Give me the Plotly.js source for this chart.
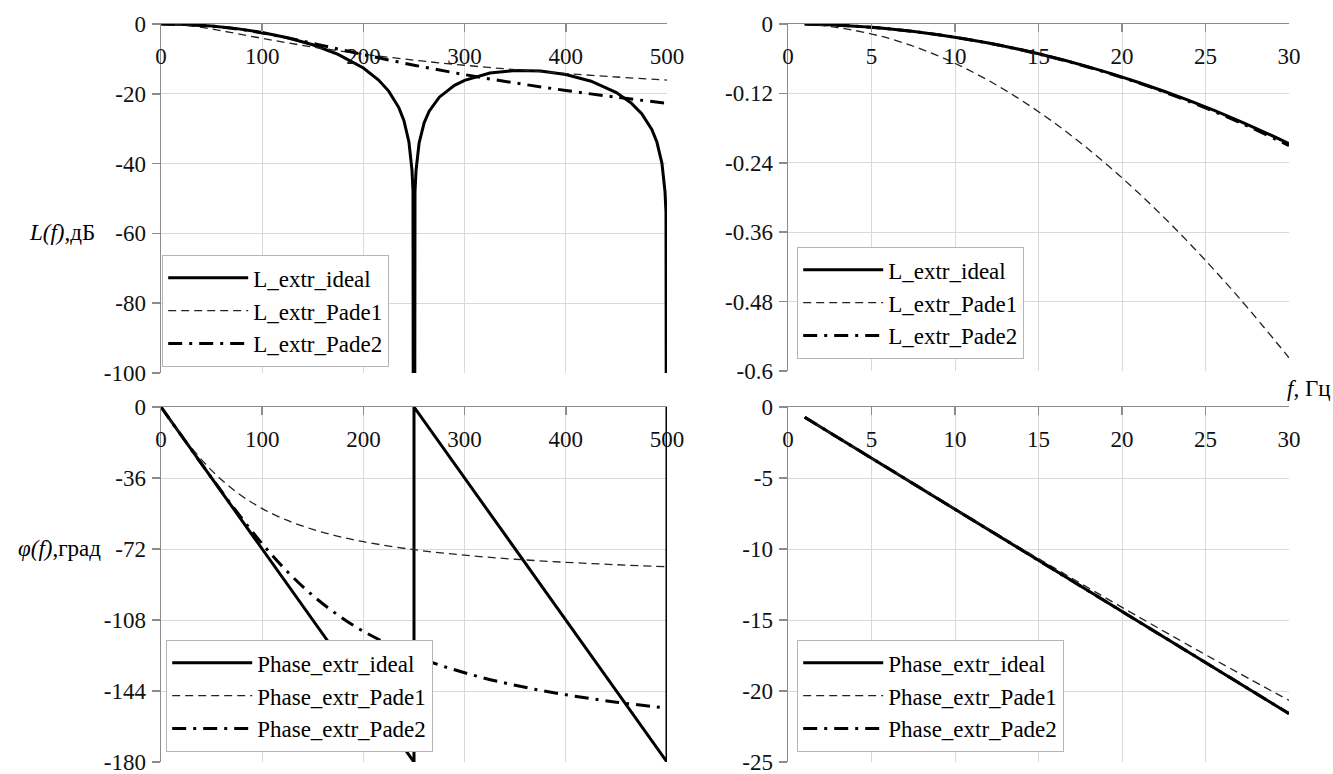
<!DOCTYPE html>
<html>
<head>
<meta charset="utf-8">
<script src="https://cdn.plot.ly/plotly-3.0.1.min.js"></script>
<style>html,body{margin:0;padding:0;background:#fff;}#chart{width:1333px;height:774px;}</style>
</head>
<body>
<div id="chart"></div>
<script>
// ---------- data ----------
const fHi = [1,25,50,75,100,125,150,175,200,215,225,235,240,245,248,249,250,251,252,255,260,265,275,290,300,325,350,375,400,425,450,465,475,485,490,495,498,499,500];
const L_ideal_hi = [-0.0002,-0.1434,-0.5792,-1.3263,-2.4201,-3.9224,-5.9419,-8.6858,-12.620,-16.049,-19.228,-23.951,-27.627,-33.810,-41.869,-47.924,-300,-47.994,-42.008,-34.157,-28.322,-24.995,-20.971,-17.576,-16.142,-14.063,-13.301,-13.465,-14.461,-16.393,-19.664,-22.750,-25.718,-30.245,-33.827,-39.919,-47.925,-53.962,-300];
const fPade = [0,25,50,75,100,125,150,175,200,250,300,350,400,450,500];
const L_pade1_hi = [0,-0.4088,-1.4451,-2.7606,-4.1147,-5.3998,-6.5830,-7.6612,-8.6430,-10.362,-11.822,-13.084,-14.194,-15.182,-16.072];
const L_pade2_hi = [0,-0.1451,-0.6028,-1.4106,-2.5611,-3.9775,-5.5474,-7.1690,-8.7730,-11.794,-14.499,-16.904,-19.050,-20.979,-22.726];
const fPhIdeal = [0,250,250,500,500];
const Ph_ideal_hi = [0,-180,0,-180,0];
const Ph_pade1_hi = [0,-17.457,-32.142,-43.302,-51.513,-57.518,-62.053,-65.539,-68.302,-72.343,-75.155,-77.191,-78.748,-79.972,-80.957];
const Ph_pade2_hi = [0,-18.001,-35.89,-53.24,-69.34,-83.55,-95.59,-105.55,-113.74,-126.09,-134.75,-141.09,-145.90,-149.65,-152.67];

const fLo = [1,3,6,9,12,15,18,21,24,27,30];
const L_ideal_lo = [-0.0002,-0.0021,-0.0082,-0.0185,-0.0329,-0.0515,-0.0742,-0.1011,-0.1321,-0.1673,-0.2067];
const L_pade1_lo = [-0.0007,-0.0062,-0.0246,-0.0552,-0.0976,-0.1516,-0.2167,-0.2924,-0.3781,-0.4732,-0.5771];
const L_pade2_lo = [-0.0002,-0.0021,-0.0082,-0.0186,-0.0330,-0.0517,-0.0747,-0.1019,-0.1336,-0.1697,-0.2103];
const Ph_ideal_lo = [-0.72,-2.16,-4.32,-6.48,-8.64,-10.8,-12.96,-15.12,-17.28,-19.44,-21.6];
const Ph_pade1_lo = [-0.72,-2.159,-4.312,-6.453,-8.575,-10.675,-12.746,-14.783,-16.783,-18.742,-20.656];
const Ph_pade2_lo = [-0.72,-2.16,-4.32,-6.48,-8.64,-10.80,-12.959,-15.118,-17.276,-19.433,-21.590];

const xTicksHi = [0,100,200,300,400,500];
const xTicksLo = [0,5,10,15,20,25,30];
const yTicksL = [0,-20,-40,-60,-80,-100];
const yLabL = ["0","-20","-40","-60","-80","-100"];
const yTicksLlo = [0,-0.12,-0.24,-0.36,-0.48,-0.6];
const yLabLlo = ["0","-0.12","-0.24","-0.36","-0.48","-0.6"];
const yTicksPh = [0,-36,-72,-108,-144,-180];
const yLabPh = ["0","-36","-72","-108","-144","-180"];
const yTicksPhLo = [0,-5,-10,-15,-20,-25];
const yLabPhLo = ["0","-5","-10","-15","-20","-25"];

const namesL = ["L_extr_ideal","L_extr_Pade1","L_extr_Pade2"];
const namesPh = ["Phase_extr_ideal","Phase_extr_Pade1","Phase_extr_Pade2"];

// ---------- styles ----------
const FONT = "'Liberation Serif', 'Times New Roman', serif";
const sIdeal = {color:"#000", width:3, dash:"solid"};
const sP1 = {color:"#222", width:1.3, dash:"8px,5px"};
const sP2 = {color:"#000", width:3, dash:"14px,7px,3px,7px"};

function tr(x, y, name, line, xa, ya, leg, shape){
  return {x:x, y:y, name:name, type:"scatter", mode:"lines",
    line:Object.assign({shape:shape||"linear"}, line),
    xaxis:xa, yaxis:ya, legend:leg, legendgroup:leg+name, hoverinfo:"skip"};
}
const data = [
  tr(fHi, L_ideal_hi, namesL[0], sIdeal, "x", "y", "legend"),
  tr(fPade, L_pade1_hi, namesL[1], sP1, "x", "y", "legend", "spline"),
  tr(fPade, L_pade2_hi, namesL[2], sP2, "x", "y", "legend", "spline"),
  tr(fLo, L_ideal_lo, namesL[0], sIdeal, "x2", "y2", "legend2", "spline"),
  tr(fLo, L_pade1_lo, namesL[1], sP1, "x2", "y2", "legend2", "spline"),
  tr(fLo, L_pade2_lo, namesL[2], sP2, "x2", "y2", "legend2", "spline"),
  tr(fPhIdeal, Ph_ideal_hi, namesPh[0], sIdeal, "x3", "y3", "legend3"),
  tr(fPade, Ph_pade1_hi, namesPh[1], sP1, "x3", "y3", "legend3", "spline"),
  tr(fPade, Ph_pade2_hi, namesPh[2], sP2, "x3", "y3", "legend3", "spline"),
  tr(fLo, Ph_ideal_lo, namesPh[0], sIdeal, "x4", "y4", "legend4"),
  tr(fLo, Ph_pade1_lo, namesPh[1], sP1, "x4", "y4", "legend4", "spline"),
  tr(fLo, Ph_pade2_lo, namesPh[2], sP2, "x4", "y4", "legend4", "spline")
];

const W = 1333, H = 774;
const px = v => v / W, py = v => 1 - v / H;
const tickFont = {family:FONT, size:23, color:"#111"};

function xax(dom, anchor, range, ticks){
  return {domain:dom, anchor:anchor, range:range, side:"top", tickmode:"array", tickvals:ticks,
    ticktext:ticks.map(String), showline:true, linecolor:"#8c8c8c", linewidth:1.5,
    showgrid:true, gridcolor:"#d9d9d9", gridwidth:1, zeroline:false,
    ticks:"inside", ticklen:8, tickcolor:"#8c8c8c", tickwidth:1.5,
    ticklabelposition:"inside", ticklabelstandoff:18, ticklabeloverflow:"allow",
    tickfont:tickFont, fixedrange:true};
}
function yax(dom, anchor, range, ticks, labels){
  return {domain:dom, anchor:anchor, range:range, tickmode:"array", tickvals:ticks, ticktext:labels,
    showline:true, linecolor:"#8c8c8c", linewidth:1.5, showgrid:true, gridcolor:"#d9d9d9", gridwidth:1,
    zeroline:false, ticks:"outside", ticklen:8, tickcolor:"#8c8c8c", tickwidth:1.5,
    ticklabelstandoff:1, ticklabeloverflow:"allow", tickfont:tickFont, fixedrange:true};
}
const legBase = {bgcolor:"#fff", bordercolor:"#b5b5b5", borderwidth:1.2,
  font:{family:FONT, size:23, color:"#000"}, xanchor:"left", yanchor:"top",
  tracegroupgap:13, itemwidth:80, traceorder:"normal"};

const layout = {
  width:W, height:H, margin:{l:0,r:0,t:0,b:0}, paper_bgcolor:"#fff", plot_bgcolor:"#fff",
  font:{family:FONT},
  xaxis: xax([px(161), px(667)], "y", [0,500], xTicksHi),
  yaxis: yax([py(373), py(24)], "x", [-100,0], yTicksL, yLabL),
  xaxis2: xax([px(788), px(1289)], "y2", [0,30], xTicksLo),
  yaxis2: yax([py(371), py(24)], "x2", [-0.6,0], yTicksLlo, yLabLlo),
  xaxis3: xax([px(161), px(667)], "y3", [0,500], xTicksHi),
  yaxis3: yax([py(762), py(407)], "x3", [-180,0], yTicksPh, yLabPh),
  xaxis4: xax([px(788), px(1289)], "y4", [0,30], xTicksLo),
  yaxis4: yax([py(762), py(407)], "x4", [-25,0], yTicksPhLo, yLabPhLo),
  legend: Object.assign({x:px(162), y:py(255)}, legBase),
  legend2: Object.assign({x:px(797), y:py(247)}, legBase),
  legend3: Object.assign({x:px(166), y:py(640)}, legBase),
  legend4: Object.assign({x:px(797), y:py(640)}, legBase),
  showlegend:true,
  annotations:[
    {text:"<i>L(f)</i>,дБ", xref:"paper", yref:"paper", x:px(62), y:py(233), showarrow:false,
     font:{family:FONT, size:23, color:"#000"}, xanchor:"center", yanchor:"middle"},
    {text:"<i>φ(f)</i>,град", xref:"paper", yref:"paper", x:px(59), y:py(548), showarrow:false,
     font:{family:FONT, size:23, color:"#000"}, xanchor:"center", yanchor:"middle"},
    {text:"<i>f</i>, Гц", xref:"paper", yref:"paper", x:px(1333), y:py(388), showarrow:false,
     font:{family:FONT, size:23, color:"#000"}, xanchor:"right", yanchor:"middle"}
  ]
};

Plotly.newPlot("chart", data, layout, {displayModeBar:false, staticPlot:true});
</script>
</body>
</html>
